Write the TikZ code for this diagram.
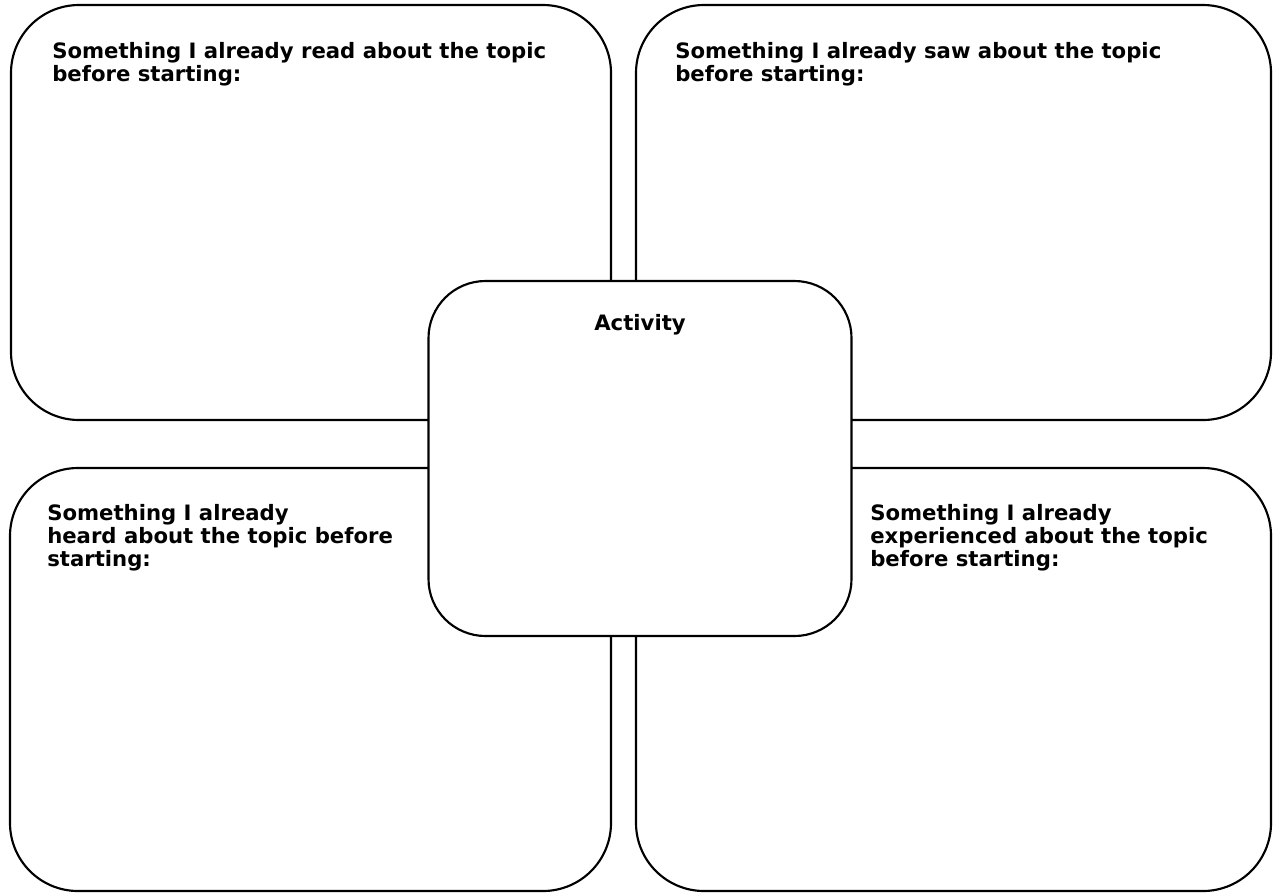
\documentclass[tikz,border=0pt]{standalone}
\usepackage{fontspec}
\setmainfont{DejaVu Sans}

\tikzset{
  card/.style={draw, line width=1.6pt, rounded corners=51pt, fill=white, inner sep=0pt},
  hub/.style={card, rounded corners=42.75pt},
  prompt/.style={font=\fontsize{15.9}{17.25}\selectfont\bfseries, align=left, inner sep=0pt, anchor=base west},
}

\begin{document}
\begin{tikzpicture}[x=0.75pt,y=-0.75pt]
  \useasboundingbox (0,0) rectangle (1277,894);
  % the four corner boxes
  \node[card, minimum width=450pt, minimum height=311.25pt] (read) at (311,212.5) {};
  \node[card, minimum width=476.25pt, minimum height=311.25pt] (saw) at (953.5,212.5) {};
  \node[card, minimum width=450.75pt, minimum height=317.25pt] (heard) at (310.5,679.5) {};
  \node[card, minimum width=476.25pt, minimum height=317.25pt] (lived) at (953.5,679.5) {};
  % centre box on top
  \node[hub, minimum width=317.25pt, minimum height=266.25pt] (activity) at (640,458.5) {};
  % prompts (base = last line)
  \node[prompt] (readtxt) at (52,81) {Something I already read about the topic\\before starting:};
  \node[prompt] (sawtxt) at (675,81) {Something I already saw about the topic\\before starting:};
  \node[prompt] (heardtxt) at (47,566) {Something I already\\heard about the topic before\\starting:};
  \node[prompt] (livedtxt) at (870,566) {Something I already\\experienced about the topic\\before starting:};
  \node[prompt, anchor=base] (acttxt) at (640,330) {Activity};
\end{tikzpicture}
\end{document}
